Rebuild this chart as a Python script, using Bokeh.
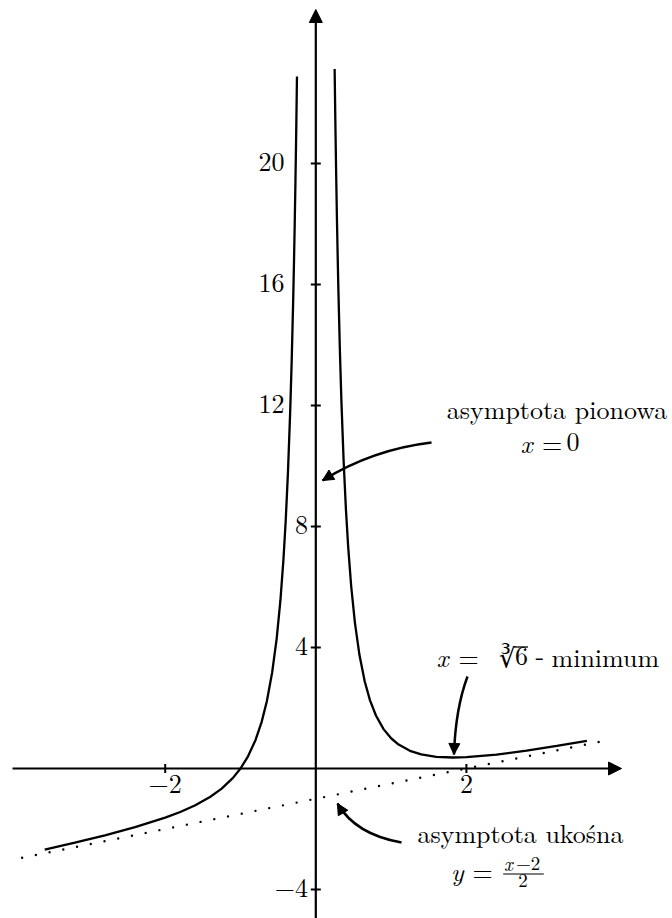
from math import hypot
from bokeh.plotting import figure
from bokeh.models import Arrow, NormalHead, Range1d
from bokeh.embed import file_html
from bokeh.resources import INLINE
from bokeh.core.properties import value

# ---- data: f(x) = (x^3 - 2x^2 + 3) / (2x^2) ----
x_left = [-3.6, -3.2, -2.8, -2.4, -2.0, -1.8, -1.6, -1.4, -1.25, -1.1, -1.0, -0.9,
          -0.8, -0.72, -0.65, -0.58, -0.52, -0.47, -0.43, -0.4, -0.37, -0.34, -0.32,
          -0.3, -0.29, -0.28, -0.27, -0.26, -0.25]
y_left = [-2.684, -2.454, -2.209, -1.940, -1.625, -1.437, -1.214, -0.935, -0.665, -0.310, 0.0, 0.402,
          0.944, 1.534, 2.225, 3.169, 4.287, 5.555, 6.898, 8.175, 9.772, 11.806, 13.488,
          15.517, 16.691, 17.993, 19.441, 21.059, 22.875]
x_right = [0.25, 0.26, 0.27, 0.28, 0.29, 0.3, 0.32, 0.34, 0.37, 0.4, 0.43, 0.47, 0.52,
           0.58, 0.65, 0.72, 0.8, 0.9, 1.0, 1.1, 1.25, 1.4, 1.6, 1.817, 2.0, 2.4, 2.8, 3.2, 3.6]
y_right = [23.125, 21.319, 19.711, 18.273, 16.981, 15.817, 13.808, 12.146, 10.142, 8.575, 7.328, 6.025, 4.807,
           3.749, 2.875, 2.254, 1.744, 1.302, 1.0, 0.790, 0.585, 0.465, 0.386, 0.363, 0.375, 0.460, 0.591, 0.747, 0.916]
asym_x = [-3.9, 3.9]
asym_y = [-2.95, 0.95]
x_ticks = [-2, 2]
x_tick_labels = ["\u22122", "2"]
y_ticks = [-4, 4, 8, 12, 16, 20]
y_tick_labels = ["\u22124", "4", "8", "12", "16", "20"]

# ---- pixel geometry (reference pixels -> data) ----
PX0, SX = 315.3, 75.3
PY0, SY = 768.0, 30.25
W, H = 672, 918
LIFT = 0.385  # baseline correction, in em


def X(px):
    return (px - PX0) / SX


def Y(py):
    return (PY0 - py) / SY


FONT = value("Latin Modern Roman")
FS_PX = 26
FS = f"{FS_PX}px"

p = figure(width=W, height=H, output_backend="svg", toolbar_location=None,
           x_range=Range1d(X(0), X(W)), y_range=Range1d(Y(H), Y(0)),
           x_axis_type=None, y_axis_type=None, min_border=0)
p.grid.visible = False
p.outline_line_color = None
p.background_fill_color = "white"
p.border_fill_color = "white"

# axes
p.add_layout(Arrow(end=NormalHead(size=13, fill_color="black", line_color="black", line_width=1),
                   x_start=X(12), y_start=0, x_end=X(621), y_end=0,
                   line_width=2.2, line_color="black"))
p.add_layout(Arrow(end=NormalHead(size=13, fill_color="black", line_color="black", line_width=1),
                   x_start=0, y_start=Y(925), x_end=0, y_end=Y(9),
                   line_width=2.2, line_color="black"))

# ticks
tx = 4.5 / SY
p.segment(x0=x_ticks, y0=[-tx] * len(x_ticks), x1=x_ticks, y1=[tx] * len(x_ticks),
          line_width=2, line_color="black")
ty = 5 / SX
p.segment(x0=[-ty] * len(y_ticks), y0=y_ticks, x1=[ty] * len(y_ticks), y1=y_ticks,
          line_width=2, line_color="black")

# tick labels
lift = LIFT * FS_PX
p.text(x=x_ticks, y=[Y(793.3 - lift)] * len(x_ticks), text=x_tick_labels, text_font=FONT,
       text_font_size=FS, text_align="center", text_baseline="alphabetic", text_color="black")
drop = (8.8 - lift) / SY
small = [(v, l) for v, l in zip(y_ticks, y_tick_labels) if abs(v) < 10]
large = [(v, l) for v, l in zip(y_ticks, y_tick_labels) if abs(v) >= 10]
p.text(x=[X(307.5)] * len(small), y=[v - drop for v, _ in small], text=[l for _, l in small],
       text_font=FONT, text_font_size=FS, text_align="right", text_baseline="alphabetic", text_color="black")
p.text(x=[X(284)] * len(large), y=[v - drop for v, _ in large], text=[l for _, l in large],
       text_font=FONT, text_font_size=FS, text_align="right", text_baseline="alphabetic", text_color="black")

# asymptote (dotted) and curve
p.line(asym_x, asym_y, line_width=2.4, line_color="black", line_dash="0 14", line_cap="round")
p.line(x_left, y_left, line_width=2.3, line_color="black")
p.line(x_right, y_right, line_width=2.3, line_color="black")


def curved_arrow(p0, c, p2):
    p.quadratic(x0=[X(p0[0])], y0=[Y(p0[1])], x1=[X(p2[0])], y1=[Y(p2[1])],
                cx=[X(c[0])], cy=[Y(c[1])], line_width=2.5, line_color="black")
    dx, dy = p2[0] - c[0], p2[1] - c[1]
    n = hypot(dx, dy)
    sx, sy = p2[0] - dx / n * 6, p2[1] - dy / n * 6
    p.add_layout(Arrow(end=NormalHead(size=11, fill_color="black", line_color="black", line_width=1),
                       x_start=X(sx), y_start=Y(sy), x_end=X(p2[0]), y_end=Y(p2[1]),
                       line_width=2.5, line_color="black"))


curved_arrow((431, 442), (372, 449), (322, 480))
curved_arrow((467, 676), (455, 708), (453.5, 754))
curved_arrow((401, 842), (355, 834), (337, 803))


def txt(px, py, s, align="left", style="normal", size=FS_PX):
    p.text(x=[X(px)], y=[Y(py - LIFT * size)], text=[s], text_font=FONT, text_font_size=f"{size}px",
           text_font_style=style, text_align=align, text_baseline="alphabetic", text_color="black")


def hrule(px0, px1, py, w=1.1):
    p.segment(x0=[X(px0)], y0=[Y(py)], x1=[X(px1)], y1=[Y(py)], line_width=w, line_color="black")


# vertical asymptote annotation
txt(556.5, 418, "asymptota pionowa", align="center")
txt(520, 452, "x", style="italic")
txt(541.5, 452, "=")
txt(566, 452, "0")

# minimum annotation
txt(436, 666, "x", style="italic")
txt(458, 666, "=")
txt(498, 666, "\u221b")
hrule(513.5, 527.5, 646.5, w=1.3)
txt(514.5, 666, "6")
txt(535, 666, "-")
txt(551, 666, "minimum")

# oblique asymptote annotation
txt(520, 842, "asymptota uko\u015bna", align="center")
txt(450.5, 880.5, "y", style="italic")
txt(472, 880.5, "=")
txt(503.5, 870, "x", style="italic", size=19)
txt(515.5, 870, "\u22122", size=19)
hrule(502.7, 543.3, 873.5)
txt(522.5, 887.5, "2", align="center", size=19)

open("out.html", "w").write(file_html(p, INLINE))
